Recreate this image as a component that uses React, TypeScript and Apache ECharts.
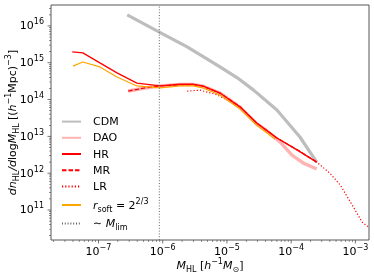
import React, { useEffect, useRef } from 'react';
import * as echarts from 'echarts';

const X_MIN = 1.82e-8;
const X_MAX = 1.63e-3;
const Y_MIN = 1.53e10;
const Y_MAX = 3.7e16;
const M_LIM = 8.85e-7;

const cdmM = [2.8e-7, 8.7e-7, 2.4e-6, 7.8e-6, 1.45e-5, 2.6e-5, 6.0e-5, 1.37e-4, 2.5e-4];
const cdmN = [2.0e16, 6.9e15, 2.7e15, 7.7e14, 3.9e14, 1.8e14, 5.2e13, 9.6e12, 2.0e12];

const daoM = [2.9e-7, 5.3e-7, 9.1e-7, 1.87e-6, 3.0e-6, 4.2e-6, 7.8e-6, 1.6e-5, 2.9e-5, 4.0e-5, 6.7e-5, 1.03e-4, 1.53e-4, 2.5e-4];
const daoN = [1.7e14, 2.07e14, 2.34e14, 2.55e14, 2.55e14, 2.3e14, 1.5e14, 6.2e13, 2.2e13, 1.5e13, 7.1e12, 3.1e12, 1.9e12, 1.3e12];

const hrM = [3.9e-8, 5.7e-8, 1.05e-7, 1.94e-7, 3.96e-7, 9.1e-7, 1.87e-6, 3.0e-6, 4.2e-6, 7.8e-6, 1.6e-5, 2.9e-5, 6.0e-5, 1.23e-4, 2.5e-4];
const hrN = [1.96e15, 1.85e15, 9.9e14, 5.3e14, 2.8e14, 2.34e14, 2.6e14, 2.6e14, 2.34e14, 1.5e14, 6.3e13, 2.3e13, 9.0e12, 4.3e12, 2.0e12];

const mrM = [2.9e-7, 5.3e-7, 9.1e-7, 1.87e-6, 3.0e-6, 4.2e-6, 7.8e-6, 1.6e-5, 2.9e-5, 6.0e-5, 1.23e-4, 2.5e-4];
const mrN = [1.7e14, 2.07e14, 2.34e14, 2.5e14, 2.55e14, 2.3e14, 1.5e14, 6.4e13, 2.3e13, 9.0e12, 4.4e12, 2.0e12];

const lrM = [2.4e-6, 3.8e-6, 7.0e-6, 1.6e-5, 2.9e-5, 6.0e-5, 1.23e-4, 2.5e-4, 4.0e-4, 5.8e-4, 7.7e-4, 9.9e-4, 1.27e-3, 1.58e-3];
const lrN = [1.7e14, 1.8e14, 1.35e14, 6.3e13, 2.3e13, 9.0e12, 4.3e12, 2.0e12, 1.0e12, 4.8e11, 2.1e11, 1.0e11, 4.7e10, 3.5e10];

const softM = [4.0e-8, 5.7e-8, 1.05e-7, 1.94e-7, 3.96e-7, 9.1e-7, 1.87e-6, 3.0e-6, 4.2e-6, 7.8e-6, 1.6e-5, 2.9e-5, 5.6e-5];
const softN = [8.1e14, 1.05e15, 7.7e14, 4.1e14, 2.34e14, 2.07e14, 2.34e14, 2.34e14, 2.07e14, 1.33e14, 5.5e13, 2.0e13, 8.5e12];

const xMajorExps = [-7, -6, -5, -4, -3];
const yMajorExps = [11, 12, 13, 14, 15, 16];

const zip = (a: number[], b: number[]) => a.map((v, i) => [v, b[i]]);

const FONT = 'DejaVu Sans';
const AX = '#444';

const richBase = {
  n: { fontFamily: FONT, fontSize: 11, color: '#000', lineHeight: 16, verticalAlign: 'middle' },
  i: { fontFamily: FONT, fontSize: 11, fontStyle: 'italic', color: '#000', lineHeight: 16, verticalAlign: 'middle' },
  sup: { fontFamily: FONT, fontSize: 8, color: '#000', lineHeight: 9, verticalAlign: 'top' },
  sub: { fontFamily: FONT, fontSize: 8, color: '#000', lineHeight: 9, verticalAlign: 'bottom' },
};

function expLabel(v: number) {
  const e = Math.log10(v);
  const r = Math.round(e);
  if (Math.abs(e - r) > 1e-6) return '';
  return '{n|10}{sup|' + String(r).replace('-', '\u2212') + '}';
}

function minorTicks(lo: number, hi: number) {
  const out: number[] = [];
  for (let k = Math.floor(Math.log10(lo)); k <= Math.ceil(Math.log10(hi)); k++) {
    for (let m = 2; m <= 9; m++) {
      const v = m * Math.pow(10, k);
      if (v >= lo && v <= hi) out.push(v);
    }
  }
  return out;
}

export default function App() {
  const ref = useRef<HTMLDivElement>(null);
  useEffect(() => {
    const chart = echarts.init(ref.current!, null, { renderer: 'svg' });
    const tickSeries = (data: number[][], size: number[], offset: number[]) => ({
      type: 'scatter',
      data,
      symbol: 'rect',
      symbolSize: size,
      symbolOffset: offset,
      itemStyle: { color: AX },
      clip: false,
      silent: true,
      z: 10,
    });
    const legendNames: Record<string, string> = {
      CDM: '{n|CDM}',
      DAO: '{n|DAO}',
      HR: '{n|HR}',
      MR: '{n|MR}',
      LR: '{n|LR}',
      rsoft: '{i|r}{sub|soft}{n| = 2}{sup|2/3}',
      Mlim: '{n|\u223C }{i|M}{sub|lim}',
    };
    const option: any = {
      animation: false,
      grid: {
        left: 51, right: 5, top: 5, bottom: 38,
        containLabel: false, outerBoundsMode: 'none',
        show: true, borderColor: AX, borderWidth: 0.9, backgroundColor: 'transparent',
      },
      xAxis: {
        type: 'log',
        logBase: 10,
        min: X_MIN,
        max: X_MAX,
        axisLine: { show: false },
        axisTick: { show: false },
        splitLine: { show: false },
        axisLabel: { formatter: expLabel, rich: richBase, margin: 3, showMinLabel: false, showMaxLabel: false },
        name: '{i|M}{sub|HL} {n|[}{i|h}{sup|\u22121}{i|M}{sub|\u2299}{n|]}',
        nameLocation: 'middle',
        nameGap: 17,
        nameMoveOverlap: false,
        nameTextStyle: { rich: richBase },
      },
      yAxis: {
        type: 'log',
        logBase: 10,
        min: Y_MIN,
        max: Y_MAX,
        axisLine: { show: false },
        axisTick: { show: false },
        splitLine: { show: false },
        axisLabel: { formatter: expLabel, rich: richBase, margin: 7, showMinLabel: false, showMaxLabel: false },
        name: '{i|dn}{sub|HL}{i|/d}{n|log}{i|M}{sub|HL} {n|[(}{i|h}{sup|\u22121}{n|Mpc)}{sup|\u22123}{n|]}',
        nameLocation: 'middle',
        nameGap: 31,
        nameRotate: 90,
        nameMoveOverlap: false,
        nameTextStyle: { rich: richBase },
      },
      legend: {
        orient: 'vertical',
        left: 61,
        top: 116,
        padding: 0,
        itemWidth: 19,
        itemHeight: 14,
        itemGap: 5,
        data: ['CDM', 'DAO', 'HR', 'MR', 'LR', 'rsoft', 'Mlim'],
        formatter: (name: string) => legendNames[name] || name,
        textStyle: { rich: richBase, padding: [0, 0, 0, 7] },
        itemStyle: { opacity: 0 },
      },
      series: [
        { name: 'CDM', type: 'line', data: zip(cdmM, cdmN), showSymbol: false, symbol: 'none', lineStyle: { color: '#bdbdbd', width: 3.2 }, itemStyle: { color: '#bdbdbd' } },
        { name: 'DAO', type: 'line', data: zip(daoM, daoN), showSymbol: false, symbol: 'none', lineStyle: { color: '#ffb3b3', width: 3.5 }, itemStyle: { color: '#ffb3b3' } },
        { name: 'HR', type: 'line', data: zip(hrM, hrN), showSymbol: false, symbol: 'none', lineStyle: { color: '#ff0000', width: 1.3 }, itemStyle: { color: '#ff0000' } },
        { name: 'MR', type: 'line', data: zip(mrM, mrN), showSymbol: false, symbol: 'none', lineStyle: { color: '#ff0000', width: 1.3, type: [4.5, 2] }, itemStyle: { color: '#ff0000' } },
        { name: 'LR', type: 'line', data: zip(lrM, lrN), showSymbol: false, symbol: 'none', lineStyle: { color: '#ff0000', width: 1.2, type: [1.2, 2] }, itemStyle: { color: '#ff0000' } },
        { name: 'rsoft', type: 'line', data: zip(softM, softN), showSymbol: false, symbol: 'none', lineStyle: { color: '#ffa500', width: 1.2 }, itemStyle: { color: '#ffa500' } },
        { name: 'Mlim', type: 'line', data: [[M_LIM, Y_MIN], [M_LIM, Y_MAX]], showSymbol: false, symbol: 'none', lineStyle: { color: '#666', width: 1, type: [1, 1.8] }, itemStyle: { color: '#666' } },
        tickSeries(xMajorExps.map((e) => [Math.pow(10, e), Y_MIN]), [0.9, 3.5], [0, 1.75]),
        tickSeries(minorTicks(X_MIN, X_MAX).map((v) => [v, Y_MIN]), [0.7, 2], [0, 1]),
        tickSeries(yMajorExps.map((e) => [X_MIN, Math.pow(10, e)]), [3.5, 0.9], [-1.75, 0]),
        tickSeries(minorTicks(Y_MIN, Y_MAX).map((v) => [X_MIN, v]), [2, 0.7], [-1, 0]),
      ],
    };
    chart.setOption(option);
    return () => chart.dispose();
  }, []);
  return <div ref={ref} style={{ position: 'fixed', left: 0, top: 0, width: 374, height: 278 }} />;
}
